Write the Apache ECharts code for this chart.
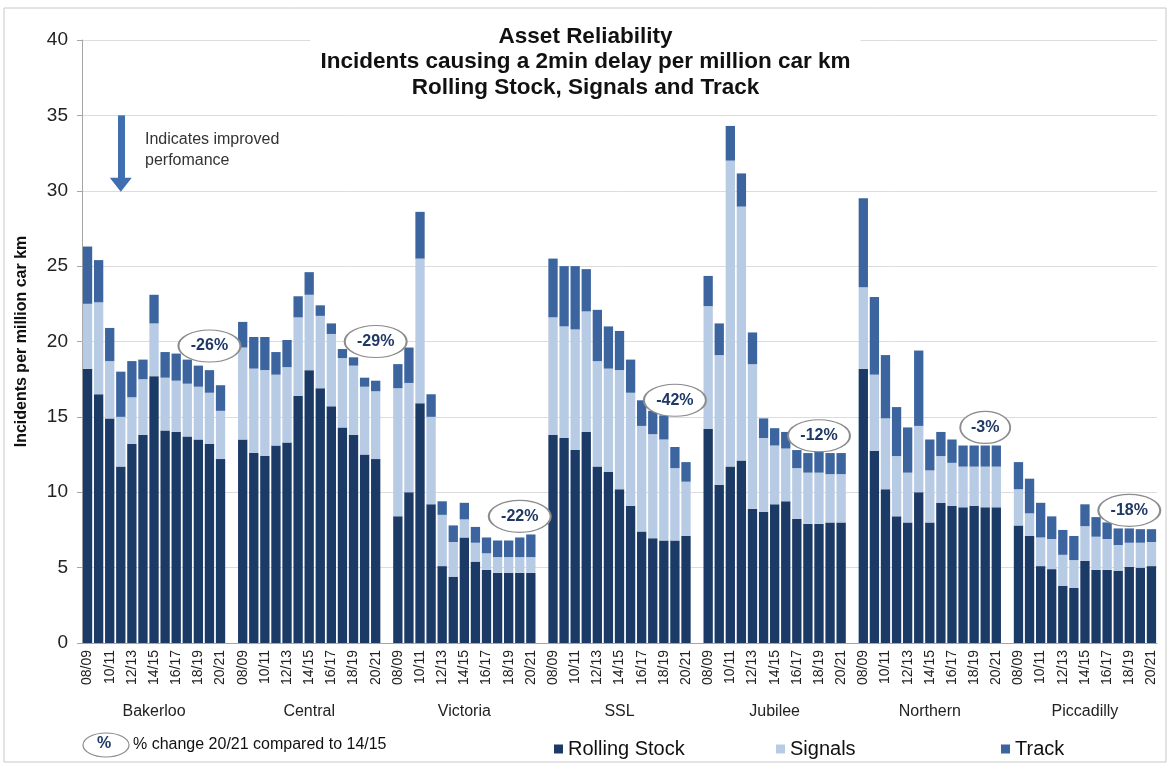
<!DOCTYPE html>
<html>
<head>
<meta charset="utf-8">
<title>Asset Reliability</title>
<script src="https://cdn.jsdelivr.net/npm/echarts@6/dist/echarts.min.js"></script>
<style>
html,body{margin:0;padding:0;background:#fff}
#main{width:1171px;height:765px}
</style>
</head>
<body>
<div id="main"></div>
<script>
// years shown for every line
var years = ['08/09','09/10','10/11','11/12','12/13','13/14','14/15','15/16','16/17','17/18','18/19','19/20','20/21'];
var lines = ['Bakerloo','Central','Victoria','SSL','Jubilee','Northern','Piccadilly'];
var changeLabels = ['-26%','-29%','-22%','-42%','-12%','-3%','-18%'];

// incidents per million car km
var bakerlooRS    = [18.2,16.5,14.9,11.7,13.2,13.8,17.7,14.1,14.0,13.7,13.5,13.2,12.2];
var bakerlooSig   = [4.3,6.1,3.8,3.3,3.1,3.7,3.5,3.5,3.4,3.5,3.5,3.4,3.2];
var bakerlooTrack = [3.8,2.8,2.2,3.0,2.4,1.3,1.9,1.7,1.8,1.6,1.4,1.5,1.7];

var centralRS    = [13.5,12.6,12.4,13.1,13.3,16.4,18.1,16.9,15.7,14.3,13.8,12.5,12.2];
var centralSig   = [6.1,5.6,5.7,4.7,5.0,5.2,5.0,4.8,4.8,4.6,4.6,4.5,4.5];
var centralTrack = [1.7,2.1,2.2,1.5,1.8,1.4,1.5,0.7,0.7,0.6,0.55,0.6,0.7];

var victoriaRS    = [8.4,10.0,15.9,9.2,5.1,4.4,7.0,5.4,4.85,4.65,4.65,4.65,4.65];
var victoriaSig   = [8.5,7.25,9.6,5.8,3.4,2.3,1.2,1.25,1.1,1.05,1.05,1.05,1.05];
var victoriaTrack = [1.6,2.35,3.1,1.5,0.9,1.1,1.1,1.05,1.05,1.1,1.1,1.3,1.5];

var sslRS    = [13.8,13.6,12.8,14.0,11.7,11.35,10.2,9.1,7.4,6.95,6.8,6.8,7.1];
var sslSig   = [7.8,7.4,8.0,8.0,7.0,6.85,7.9,7.5,7.0,6.9,6.7,4.8,3.6];
var sslTrack = [3.9,4.0,4.2,2.8,3.4,2.8,2.6,2.2,1.7,1.55,1.6,1.4,1.3];

var jubileeRS    = [14.2,10.5,11.7,12.1,8.9,8.7,9.2,9.4,8.25,7.9,7.9,8.0,8.0];
var jubileeSig   = [8.15,8.6,20.3,16.85,9.6,4.9,3.9,3.5,3.35,3.4,3.4,3.2,3.2];
var jubileeTrack = [2.0,2.1,2.3,2.2,2.1,1.3,1.15,1.1,1.2,1.3,1.5,1.4,1.4];

var northernRS    = [18.2,12.75,10.2,8.4,8.0,10.0,8.0,9.3,9.1,9.0,9.1,9.0,9.0];
var northernSig   = [5.4,5.05,4.7,4.0,3.3,4.4,3.45,3.1,2.85,2.7,2.6,2.7,2.7];
var northernTrack = [5.9,5.15,4.2,3.25,3.0,5.0,2.05,1.6,1.55,1.4,1.4,1.4,1.4];

var piccadillyRS    = [7.8,7.1,5.1,4.9,3.8,3.65,5.45,4.85,4.85,4.8,5.05,5.0,5.1];
var piccadillySig   = [2.4,1.5,1.9,2.0,2.05,1.85,2.3,2.2,2.05,1.7,1.6,1.65,1.6];
var piccadillyTrack = [1.8,2.3,2.3,1.5,1.65,1.6,1.45,1.3,1.1,1.1,0.95,0.9,0.85];

var rsByLine    = [bakerlooRS, centralRS, victoriaRS, sslRS, jubileeRS, northernRS, piccadillyRS];
var sigByLine   = [bakerlooSig, centralSig, victoriaSig, sslSig, jubileeSig, northernSig, piccadillySig];
var trackByLine = [bakerlooTrack, centralTrack, victoriaTrack, sslTrack, jubileeTrack, northernTrack, piccadillyTrack];

// where the % change bubbles sit (category slot, value)
var changeSlot = [11, 26, 39, 53, 66, 81, 94];
var changeY    = [19.7, 20.0, 8.4, 16.1, 13.75, 14.3, 8.8];

var FONT = '"Liberation Sans", Arial, sans-serif';

// flatten into one category axis, with an empty slot between lines
var cats = [], yearLabel = [], groupLabel = [], rs = [], sig = [], trk = [];
lines.forEach(function (name, g) {
  if (g > 0) {
    cats.push('gap' + g); yearLabel.push(''); groupLabel.push('');
    rs.push('-'); sig.push('-'); trk.push('-');
  }
  years.forEach(function (y, k) {
    cats.push(name + ' ' + y);
    yearLabel.push(k % 2 === 0 ? y : '');
    groupLabel.push(k === 6 ? name : '');
    rs.push(rsByLine[g][k]);
    sig.push(sigByLine[g][k]);
    trk.push(trackByLine[g][k]);
  });
});

var myChart = echarts.init(document.getElementById('main'));
var option = {
  backgroundColor: '#fff',
  animation: false,
  textStyle: { fontFamily: FONT },
  title: {
    text: 'Asset Reliability\nIncidents causing a 2min delay per million car km\nRolling Stock, Signals and Track',
    left: 'center',
    top: 22,
    backgroundColor: '#fff',
    padding: [2, 10],
    textStyle: { fontFamily: FONT, fontSize: 22.5, fontWeight: 'bold', color: '#111', lineHeight: 25.5 }
  },
  legend: [
    { data: ['Rolling Stock'], left: 549, top: 734, icon: 'rect', itemWidth: 9, itemHeight: 9,
      textStyle: { fontFamily: FONT, fontSize: 20, color: '#111' } },
    { data: ['Signals'], left: 771, top: 734, icon: 'rect', itemWidth: 9, itemHeight: 9,
      textStyle: { fontFamily: FONT, fontSize: 20, color: '#111' } },
    { data: ['Track'], left: 996, top: 734, icon: 'rect', itemWidth: 9, itemHeight: 9,
      textStyle: { fontFamily: FONT, fontSize: 20, color: '#111' } }
  ],
  grid: { left: 82, right: 14, top: 40, bottom: 122 },
  xAxis: [
    {
      type: 'category',
      data: cats,
      axisLine: { lineStyle: { color: '#a6a6a6' } },
      axisTick: { show: false },
      axisLabel: {
        interval: 0, rotate: 90, margin: 7,
        fontFamily: FONT, fontSize: 14, color: '#222',
        formatter: function (v, i) { return yearLabel[i]; }
      }
    },
    {
      type: 'category',
      data: cats,
      position: 'bottom',
      offset: 59,
      axisLine: { show: false },
      axisTick: { show: false },
      axisLabel: {
        interval: 0, margin: 2,
        fontFamily: FONT, fontSize: 16, color: '#222',
        formatter: function (v, i) { return groupLabel[i]; }
      }
    }
  ],
  yAxis: {
    type: 'value',
    min: 0, max: 40, interval: 5,
    name: 'Incidents per million car km',
    nameLocation: 'middle',
    nameGap: 52,
    nameTextStyle: { fontFamily: FONT, fontSize: 16, fontWeight: 'bold', color: '#111' },
    axisLine: { show: true, lineStyle: { color: '#a6a6a6' } },
    axisTick: { show: true, length: 5, lineStyle: { color: '#a6a6a6' } },
    axisLabel: { fontFamily: FONT, fontSize: 19, color: '#222', margin: 14 },
    splitLine: { lineStyle: { color: '#dcdcdc' } }
  },
  graphic: [
    { type: 'rect', shape: { x: 4, y: 8, width: 1162, height: 754 }, silent: true,
      style: { fill: 'none', stroke: '#c8c8c8', lineWidth: 1 } },
    { type: 'text', left: 145, top: 129, silent: true,
      style: { text: 'Indicates improved\nperfomance', fill: '#333', font: '16px ' + FONT, lineHeight: 21 } },
    { type: 'ellipse', shape: { cx: 106, cy: 745, rx: 23, ry: 12 }, silent: true,
      style: { fill: '#fff', stroke: '#8c8c8c', lineWidth: 1.2 } },
    { type: 'text', left: 97, top: 736, silent: true,
      style: { text: '%', fill: '#1f3864', font: 'bold 16px ' + FONT } },
    { type: 'text', left: 133, top: 737, silent: true,
      style: { text: '% change 20/21 compared to 14/15', fill: '#111', font: '16px ' + FONT } }
  ],
  series: [
    {
      name: 'Rolling Stock', type: 'bar', stack: 'total', data: rs,
      barCategoryGap: '16%',
      itemStyle: { color: '#1b3a66' },
      markLine: {
        silent: true,
        symbol: ['none', 'triangle'],
        symbolSize: [22, 14],
        label: { show: false },
        lineStyle: { color: '#3f6fae', width: 7, type: 'solid' },
        data: [[{ coord: [3, 35] }, { coord: [3, 30.4] }]]
      }
    },
    {
      name: 'Signals', type: 'bar', stack: 'total', data: sig,
      itemStyle: { color: '#b8cbe4' }
    },
    {
      name: 'Track', type: 'bar', stack: 'total', data: trk,
      itemStyle: { color: '#3c659f' },
      markPoint: {
        silent: true,
        symbol: 'path://M0,20A40,20 0 1,1 80,20A40,20 0 1,1 0,20Z',
        symbolSize: [62, 32],
        itemStyle: { color: '#fff', borderColor: '#8c8c8c', borderWidth: 1.5 },
        label: { show: true, formatter: '{b}', color: '#1f3864', fontFamily: FONT, fontSize: 16, fontWeight: 'bold' },
        data: changeLabels.map(function (t, i) {
          return { name: t, coord: [changeSlot[i], changeY[i]], symbolSize: t.length < 4 ? [50, 32] : [62, 32] };
        })
      }
    }
  ]
};
myChart.setOption(option);
</script>
</body>
</html>
